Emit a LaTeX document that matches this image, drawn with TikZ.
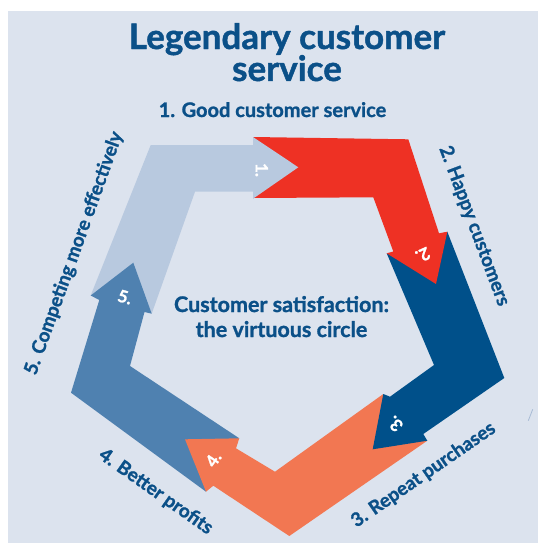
\documentclass[tikz,border=0pt]{standalone}
\usepackage{fontspec}
\setmainfont{Lato}[BoldFeatures={FakeBold=1.2}]
\definecolor{bgc}{HTML}{DCE3EE}
\definecolor{lblue}{HTML}{B8C9DF}
\definecolor{redc}{HTML}{EE3124}
\definecolor{dblue}{HTML}{00508A}
\definecolor{orangec}{HTML}{F27752}
\definecolor{mblue}{HTML}{4F81B0}
\definecolor{txt}{HTML}{0B5088}
\definecolor{stray}{HTML}{A8BBD5}
\tikzset{
  lbl/.style={text=txt, font=\bfseries\fontsize{19}{22}\selectfont, inner sep=0pt},
  num/.style={text=white, font=\bfseries\fontsize{17}{19}\selectfont, inner sep=0pt},
  ttl/.style={text=txt, font=\bfseries\fontsize{35}{40}\selectfont, inner sep=0pt, anchor=base},
  sub/.style={text=txt, font=\bfseries\fontsize{20}{24}\selectfont, inner sep=0pt, anchor=base},
  ctr/.style={text=txt, font=\bfseries\fontsize{21.5}{25}\selectfont, inner sep=0pt, anchor=base},
}
\begin{document}
\begin{tikzpicture}[x=1pt,y=-1pt]
\useasboundingbox (0,0) rectangle (538,543);
\fill[white] (0,0) rectangle (538,543);
\fill[bgc] (7.5,11) rectangle (538,543);
\draw[stray, line width=0.8pt] (532.7,409.3) -- (528.3,420.7);
% arrow 1 (light blue)
\fill[lblue] (90.7,295.5) -- (150.7,145) -- (253,145) -- (253,137) -- (298.3,167.3) -- (253,198.7) -- (253,191.7) -- (195,191.7) -- (151.7,313.7) -- (127.25,283.65) -- cycle;
% arrow 5 (mid blue)
\fill[mblue] (206,491.7) -- (71,392.7) -- (99.3,300) -- (90.7,295.5) -- (133.3,262.7) -- (151.7,313.7) -- (144.5,312) -- (130,366) -- (239.3,438.3) -- (203.8,452.1) -- cycle;
% arrow 4 (orange)
\fill[orangec] (383.3,394) -- (275,471.7) -- (236,448.3) -- (239.3,438.3) -- (185,439.3) -- (206,491.7) -- (213.3,485.7) -- (289.3,536) -- (427.3,440.7) -- (389,433.3) -- cycle;
% arrow 3 (dark blue)
\fill[dblue] (447.3,231.7) -- (504.3,378) -- (423.3,434) -- (427.3,440.7) -- (372.7,449.3) -- (383.3,394) -- (390,396.7) -- (434,365) -- (386.7,253.3) -- (426.5,263.3) -- cycle;
% arrow 2 (red)
\fill[redc] (253,137) -- (408.3,139.3) -- (439,233.3) -- (447.3,231.7) -- (436,284) -- (386.7,253.3) -- (393.3,251.5) -- (373.3,197.3) -- (253,198) -- (275.7,167.5) -- cycle;
% head of arrow 1 on top
\fill[lblue] (253,137) -- (298.3,167.3) -- (253,198.7) -- cycle;
% numbers
\node[num, rotate=-90] (n1) at (261.7,170) {1.};
\node[num, rotate=204.6] (n2) at (423,255) {2.};
\node[num, rotate=134.5] (n3) at (395,424) {3.};
\node[num, rotate=55.7] (n4) at (213.3,459.3) {4.};
\node[num, rotate=-16.1] (n5) at (125,297) {5.};
% titles
\node[ttl] (t1) at (287,49) {Legendary customer};
\node[ttl] (t2) at (287,81) {service};
\node[sub] (s1) at (272.5,117) {1. Good customer service};
\node[ctr] (c1) at (281.5,312) {Customer satisfaction:};
\node[ctr] (c2) at (281.5,337) {the virtuous circle};
% labels
\node[lbl, rotate=-69.4] (l2) at (474,226) {2. Happy customers};
\node[lbl, rotate=34.6] (l3) at (423.5,475) {3. Repeat purchases};
\node[lbl, rotate=-35.1] (l4) at (155.8,491.7) {4. Better profits};
\node[lbl, rotate=70.2] (l5) at (74.2,253.3) {5. Competing more effectively};
\end{tikzpicture}
\end{document}
